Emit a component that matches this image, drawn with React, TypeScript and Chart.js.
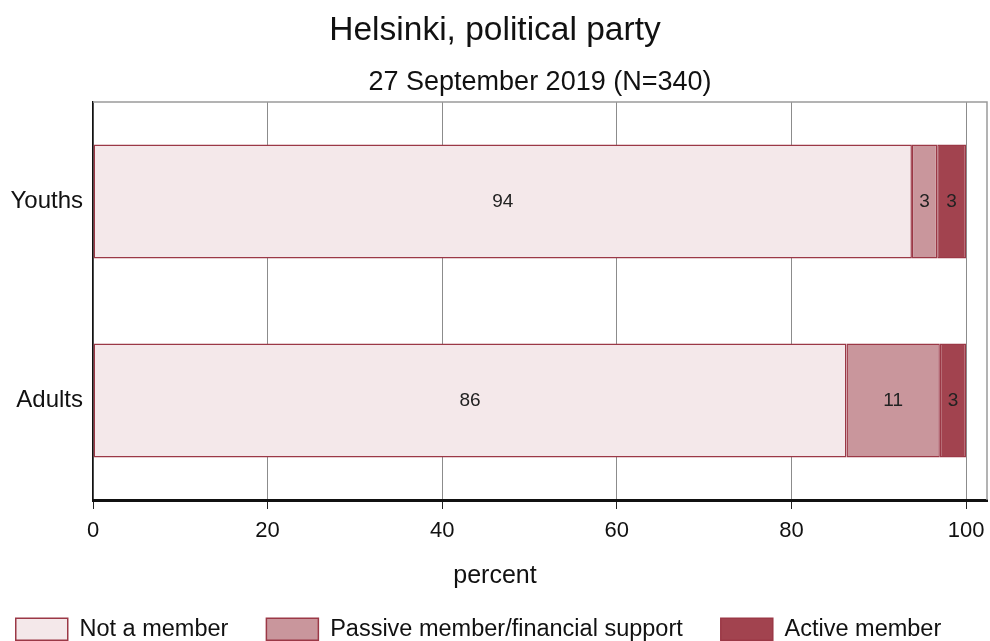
import React, { useEffect, useRef } from "react";
import { Chart, registerables } from "chart.js";

Chart.register(...registerables);

const categories = ["Youths", "Adults"];
const seriesNames = ["Not a member", "Passive member/financial support", "Active member"];
const notMember = [93.8, 86.3];
const passive = [2.9, 10.7];
const active = [3.3, 3.0];
const xTicks = [0, 20, 40, 60, 80, 100];
const titleText = "Helsinki, political party";
const subtitleText = "27 September 2019 (N=340)";
const xTitleText = "percent";

const FAMILY = "'Liberation Sans', Arial, sans-serif";
const fills = ["#f4e8ea", "#c9969c", "#a2434f"];
const edge = "#9b3846";

const framePlugin = {
  id: "frame",
  beforeDatasetsDraw(chart: any) {
    const { ctx, chartArea: a } = chart;
    ctx.save();
    ctx.strokeStyle = "#9a9a9a";
    ctx.lineWidth = 1.5;
    ctx.beginPath();
    ctx.moveTo(a.left, a.top);
    ctx.lineTo(a.right, a.top);
    ctx.lineTo(a.right, a.bottom);
    ctx.stroke();
    ctx.restore();
  },
};

const valueLabelPlugin = {
  id: "valueLabels",
  afterDatasetsDraw(chart: any) {
    const { ctx } = chart;
    ctx.save();
    ctx.font = `19px ${FAMILY}`;
    ctx.fillStyle = "#222";
    ctx.textAlign = "center";
    ctx.textBaseline = "middle";
    chart.data.datasets.forEach((ds: any, di: number) => {
      const meta = chart.getDatasetMeta(di);
      meta.data.forEach((bar: any, i: number) => {
        const v = ds.data[i];
        const cx = (bar.x + bar.base) / 2;
        ctx.fillText(String(Math.round(v)), cx, bar.y);
      });
    });
    ctx.restore();
  },
};

const titlePlugin = {
  id: "titles",
  afterDraw(chart: any) {
    const { ctx, chartArea: a, width } = chart;
    ctx.save();
    ctx.fillStyle = "#111";
    ctx.textAlign = "center";
    ctx.textBaseline = "middle";
    ctx.font = `33.5px ${FAMILY}`;
    ctx.fillText(titleText, width / 2, 31);
    ctx.font = `27px ${FAMILY}`;
    ctx.fillText(subtitleText, (a.left + a.right) / 2, 83);
    ctx.font = `25px ${FAMILY}`;
    ctx.fillText(xTitleText, width / 2, 576);
    ctx.restore();
  },
};

export default function App() {
  const ref = useRef<HTMLCanvasElement>(null);
  useEffect(() => {
    document.body.style.margin = "0";
    const seriesData = [notMember, passive, active];
    const chart = new Chart(ref.current as HTMLCanvasElement, {
      type: "bar",
      data: {
        labels: categories,
        datasets: seriesNames.map((name, i) => ({
          label: name,
          data: seriesData[i],
          backgroundColor: fills[i],
          borderColor: edge,
          borderWidth: 1.5,
          borderSkipped: false,
          categoryPercentage: 1,
          barPercentage: 0.573,
        })),
      },
      options: {
        indexAxis: "y",
        responsive: false,
        animation: false,
        devicePixelRatio: 1,
        layout: { padding: { top: 102, right: 3, left: -30, bottom: -10 } },
        scales: {
          x: {
            stacked: true,
            min: 0,
            max: 102.4,
            afterBuildTicks: (s: any) => {
              s.ticks = xTicks.map((v) => ({ value: v }));
            },
            afterFit: (s: any) => {
              s.height = 79.5;
              s.paddingRight = 0;
              s.paddingLeft = 0;
            },
            grid: {
              color: "#8c8c8c",
              lineWidth: 1,
              drawTicks: true,
              tickLength: 9,
              tickColor: "#222",
              tickWidth: 1,
            },
            border: { color: "#111", width: 3 },
            ticks: {
              color: "#111",
              font: { size: 22, family: FAMILY },
              padding: 9,
              maxRotation: 0,
            },
          },
          y: {
            stacked: true,
            grid: { display: false },
            border: { color: "#111", width: 1.5 },
            ticks: { color: "#111", font: { size: 24, family: FAMILY }, padding: 2 },
            afterFit: (s: any) => {
              s.width = 123;
            },
          },
        },
        plugins: {
          legend: {
            position: "bottom",
            labels: {
              boxWidth: 52,
              boxHeight: 22,
              padding: 38,
              color: "#111",
              font: { size: 23.5, family: FAMILY },
            },
          },
          title: { display: false },
          tooltip: { enabled: false },
        },
      },
      plugins: [framePlugin, valueLabelPlugin, titlePlugin],
    } as any);
    return () => chart.destroy();
  }, []);
  return (
    <div style={{ width: 990, height: 641 }}>
      <canvas ref={ref} width={990} height={641} style={{ width: 990, height: 641, display: "block" }} />
    </div>
  );
}
